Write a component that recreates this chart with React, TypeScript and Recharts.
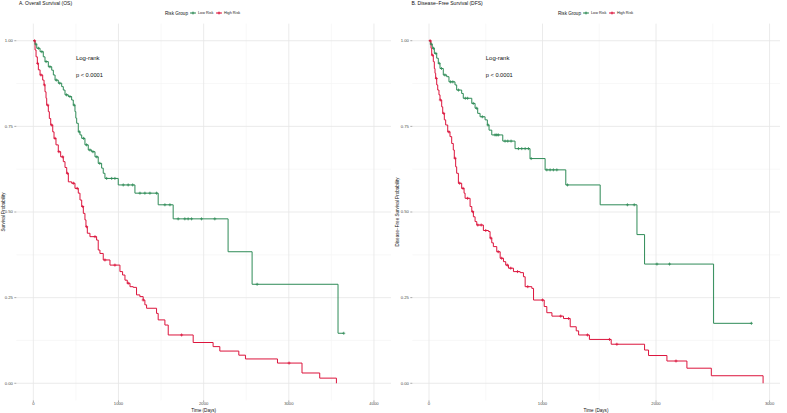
import React from 'react';
import { LineChart, Line, XAxis, YAxis, CartesianGrid, ReferenceDot } from 'recharts';

const FONT = '"Liberation Sans", Arial, Helvetica, sans-serif';
const GREEN = '#2E8B57';
const RED = '#DC143C';

// ---- A. Overall Survival (OS) ----
const osLowTime = [0, 20, 40, 79, 117, 137, 176, 216, 235, 255, 293, 333, 352, 372, 411, 450, 469, 489, 499, 509, 528, 548, 568, 606, 645, 685, 724, 762, 802, 821, 841, 997, 1193, 1466, 1642, 2287, 2569, 3578];
const osLowSurv = [1, 0.99, 0.978, 0.968, 0.953, 0.939, 0.924, 0.914, 0.9, 0.885, 0.876, 0.866, 0.856, 0.842, 0.837, 0.827, 0.812, 0.793, 0.774, 0.759, 0.734, 0.725, 0.715, 0.696, 0.681, 0.676, 0.661, 0.642, 0.628, 0.613, 0.598, 0.579, 0.555, 0.521, 0.48, 0.384, 0.289, 0.146];
const osLowCensor = [30, 60, 100, 150, 195, 270, 310, 390, 430, 480, 540, 590, 625, 665, 700, 745, 780, 861, 920, 958, 1056, 1114, 1166, 1252, 1310, 1369, 1447, 1545, 1604, 1701, 1779, 1818, 1858, 1975, 2131, 2628, 3645];

const osHighTime = [0, 20, 32, 47, 59, 79, 110, 126, 137, 149, 157, 176, 188, 204, 228, 243, 266, 293, 321, 352, 372, 392, 411, 450, 489, 528, 548, 568, 587, 606, 618, 634, 665, 743, 762, 782, 821, 900, 1017, 1048, 1076, 1103, 1135, 1173, 1212, 1251, 1290, 1310, 1330, 1447, 1466, 1545, 1584, 1877, 2111, 2190, 2413, 2491, 2867, 3155, 3363, 3559];
const osHighSurv = [1, 0.973, 0.953, 0.934, 0.915, 0.9, 0.885, 0.871, 0.851, 0.832, 0.812, 0.793, 0.773, 0.754, 0.734, 0.715, 0.696, 0.676, 0.661, 0.647, 0.63, 0.613, 0.588, 0.584, 0.569, 0.555, 0.535, 0.516, 0.496, 0.477, 0.457, 0.438, 0.428, 0.418, 0.389, 0.379, 0.36, 0.345, 0.326, 0.316, 0.301, 0.292, 0.282, 0.28, 0.258, 0.253, 0.243, 0.229, 0.219, 0.204, 0.185, 0.17, 0.141, 0.119, 0.107, 0.094, 0.082, 0.071, 0.059, 0.03, 0.015, 0];
const osHighCensor = [15, 50, 90, 130, 170, 215, 255, 300, 345, 400, 470, 515, 580, 626, 724, 841, 958, 1114, 1290, 1741, 3003];

// ---- B. Disease-Free Survival (DFS) ----
const dfsLowTime = [0, 12, 29, 47, 68, 82, 97, 126, 156, 176, 229, 244, 288, 302, 377, 406, 429, 450, 494, 514, 529, 553, 650, 758, 890, 1023, 1205, 1508, 1832, 1899, 2507];
const dfsLowSurv = [1, 0.99, 0.978, 0.963, 0.949, 0.934, 0.919, 0.9, 0.895, 0.88, 0.871, 0.856, 0.846, 0.832, 0.817, 0.803, 0.788, 0.778, 0.769, 0.754, 0.739, 0.725, 0.707, 0.685, 0.656, 0.623, 0.579, 0.521, 0.434, 0.348, 0.175];
const dfsLowCensor = [20, 40, 60, 90, 110, 140, 190, 210, 260, 320, 340, 390, 420, 470, 520, 582, 597, 611, 670, 694, 723, 788, 817, 847, 876, 900, 1038, 1067, 1096, 1126, 1220, 1748, 1808, 2008, 2119, 2840];

const dfsHighTime = [0, 18, 24, 38, 47, 53, 59, 68, 77, 88, 97, 112, 121, 135, 147, 165, 185, 200, 214, 223, 235, 244, 259, 288, 309, 318, 362, 377, 391, 406, 421, 479, 524, 538, 553, 567, 597, 627, 656, 676, 700, 744, 803, 832, 847, 906, 921, 1015, 1038, 1083, 1185, 1244, 1297, 1318, 1413, 1605, 1899, 1934, 2096, 2272, 2487, 2943];
const dfsHighSurv = [1, 0.978, 0.958, 0.939, 0.919, 0.905, 0.89, 0.871, 0.856, 0.842, 0.827, 0.807, 0.788, 0.769, 0.754, 0.734, 0.72, 0.7, 0.681, 0.657, 0.632, 0.613, 0.584, 0.569, 0.555, 0.54, 0.516, 0.501, 0.486, 0.472, 0.462, 0.446, 0.443, 0.424, 0.41, 0.399, 0.384, 0.365, 0.355, 0.345, 0.336, 0.326, 0.323, 0.311, 0.282, 0.277, 0.243, 0.224, 0.206, 0.196, 0.189, 0.165, 0.153, 0.141, 0.128, 0.114, 0.097, 0.081, 0.065, 0.044, 0.022, 0];
const dfsHighCensor = [10, 30, 65, 100, 130, 175, 230, 270, 300, 340, 385, 430, 460, 500, 545, 610, 640, 690, 720, 780, 870, 1000, 1160, 1230, 1396, 1590, 1655, 2176];

const yTicks = [0, 0.25, 0.5, 0.75, 1];
const yMinor = [0.125, 0.375, 0.625, 0.875];
const osXTicks = [0, 1000, 2000, 3000, 4000];
const osXMinor = [500, 1500, 2500, 3500];
const dfsXTicks = [0, 1000, 2000, 3000];
const dfsXMinor = [500, 1500, 2500];

type Pt = { t: number; s: number; c: number };

// Merge event steps and censoring times into one step series;
// a censored subject keeps the survival level in effect at its time.
function buildCurve(times: number[], surv: number[], censor: number[]): Pt[] {
  const pts: Pt[] = times.map((t, i) => ({ t, s: surv[i], c: 0 }));
  censor.forEach((ct) => {
    let s = surv[0];
    for (let i = 0; i < times.length; i++) if (times[i] <= ct) s = surv[i];
    pts.push({ t: ct, s, c: 1 });
  });
  pts.sort((a, b) => a.t - b.t || a.c - b.c);
  return pts;
}

const plusDot = (color: string) => (props: any) => {
  const { cx, cy, payload, index } = props;
  if (!payload || !payload.c || cx == null || cy == null) return <g key={`n${index}`} />;
  const a = 1.5;
  return (
    <path
      key={`p${index}`}
      d={`M${cx - a},${cy}H${cx + a}M${cx},${cy - a}V${cy + a}`}
      stroke={color}
      strokeWidth={0.8}
      fill="none"
    />
  );
};

type PanelProps = {
  left: number;
  width: number;
  marginRight: number;
  domain: [number, number];
  xTicks: number[];
  xMinor: number[];
  low: Pt[];
  high: Pt[];
};

function SurvivalPanel({ left, width, marginRight, domain, xTicks, xMinor, low, high }: PanelProps) {
  const tickStyle = { fontSize: 4.2, fill: '#4D4D4D', fontFamily: FONT };
  return (
    <div style={{ position: 'absolute', left, top: 0, width, height: 413 }}>
      <LineChart width={width} height={413} margin={{ top: 23.6, right: marginRight, bottom: 0.6, left: 0 }}>
        <CartesianGrid stroke="#F3F3F3" strokeWidth={0.6} horizontalValues={yMinor} verticalValues={xMinor} />
        <CartesianGrid stroke="#E6E6E6" strokeWidth={0.8} horizontalValues={yTicks} verticalValues={xTicks} />
        <XAxis
          type="number"
          dataKey="t"
          domain={domain}
          ticks={xTicks}
          allowDataOverflow
          axisLine={false}
          tickLine={{ stroke: '#555', strokeWidth: 0.5 }}
          tickSize={2}
          tickMargin={0}
          height={12}
          tick={tickStyle}
        />
        <YAxis
          type="number"
          domain={[-0.05, 1.05]}
          ticks={yTicks}
          allowDataOverflow
          tickFormatter={(v: number) => v.toFixed(2)}
          axisLine={false}
          tickLine={{ stroke: '#555', strokeWidth: 0.5 }}
          tickSize={2}
          tickMargin={1.5}
          width={16.3}
          tick={tickStyle}
        />
        <Line data={low} dataKey="s" type="stepAfter" stroke={GREEN} strokeWidth={1} dot={plusDot(GREEN)} activeDot={false} isAnimationActive={false} />
        <Line data={high} dataKey="s" type="stepAfter" stroke={RED} strokeWidth={1} dot={plusDot(RED)} activeDot={false} isAnimationActive={false} />
        <ReferenceDot
          x={500}
          y={0.95}
          r={0}
          fill="none"
          stroke="none"
          label={{ value: 'Log-rank', position: 'insideLeft', offset: 0, fontSize: 6, fill: '#111', fontFamily: FONT }}
        />
        <ReferenceDot
          x={500}
          y={0.9}
          r={0}
          fill="none"
          stroke="none"
          label={{ value: 'p < 0.0001', position: 'insideLeft', offset: 0, fontSize: 5.7, fill: '#111', fontFamily: FONT }}
        />
      </LineChart>
    </div>
  );
}

function LegendRow({ x }: { x: number }) {
  const y = 13;
  const key = (kx: number, color: string) => (
    <g>
      <line x1={kx} x2={kx + 6} y1={y} y2={y} stroke={color} strokeWidth={1} />
      <path d={`M${kx + 1.6},${y}H${kx + 4.4}M${kx + 3},${y - 1.5}V${y + 1.5}`} stroke={color} strokeWidth={0.8} />
    </g>
  );
  return (
    <g fontFamily={FONT} dominantBaseline="central">
      <text x={x} y={y} fontSize={4.6} fill="#111">Risk Group</text>
      {key(x + 25, GREEN)}
      <text x={x + 33} y={y} fontSize={3.8} fill="#222">Low Risk</text>
      {key(x + 51, RED)}
      <text x={x + 59} y={y} fontSize={3.8} fill="#222">High Risk</text>
    </g>
  );
}

export default function App() {
  const osLow = buildCurve(osLowTime, osLowSurv, osLowCensor);
  const osHigh = buildCurve(osHighTime, osHighSurv, osHighCensor);
  const dfsLow = buildCurve(dfsLowTime, dfsLowSurv, dfsLowCensor);
  const dfsHigh = buildCurve(dfsHighTime, dfsHighSurv, dfsHighCensor);

  return (
    <div style={{ position: 'absolute', left: 0, top: 0, width: 787, height: 413, background: '#fff', overflow: 'hidden' }}>
      <SurvivalPanel left={0} width={400} marginRight={9} domain={[-200, 4200]} xTicks={osXTicks} xMinor={osXMinor} low={osLow} high={osHigh} />
      <SurvivalPanel left={396} width={391} marginRight={7} domain={[-147, 3092]} xTicks={dfsXTicks} xMinor={dfsXMinor} low={dfsLow} high={dfsHigh} />
      <svg width={787} height={413} style={{ position: 'absolute', left: 0, top: 0, pointerEvents: 'none' }}>
        <g fontFamily={FONT} fill="#111">
          <text x={19} y={3.2} fontSize={5} dominantBaseline="central">A. Overall Survival (OS)</text>
          <text x={411.5} y={3.2} fontSize={5} dominantBaseline="central">B. Disease−Free Survival (DFS)</text>
          <text x={203.7} y={410} fontSize={4.6} textAnchor="middle" dominantBaseline="central">Time (Days)</text>
          <text x={596} y={410} fontSize={4.6} textAnchor="middle" dominantBaseline="central">Time (Days)</text>
          <text transform="translate(3,212) rotate(-90)" fontSize={4.6} textAnchor="middle" dominantBaseline="central">Survival Probability</text>
          <text transform="translate(397.5,212) rotate(-90)" fontSize={4.6} textAnchor="middle" dominantBaseline="central">Disease−Free Survival Probability</text>
        </g>
        <LegendRow x={165} />
        <LegendRow x={558} />
      </svg>
    </div>
  );
}
